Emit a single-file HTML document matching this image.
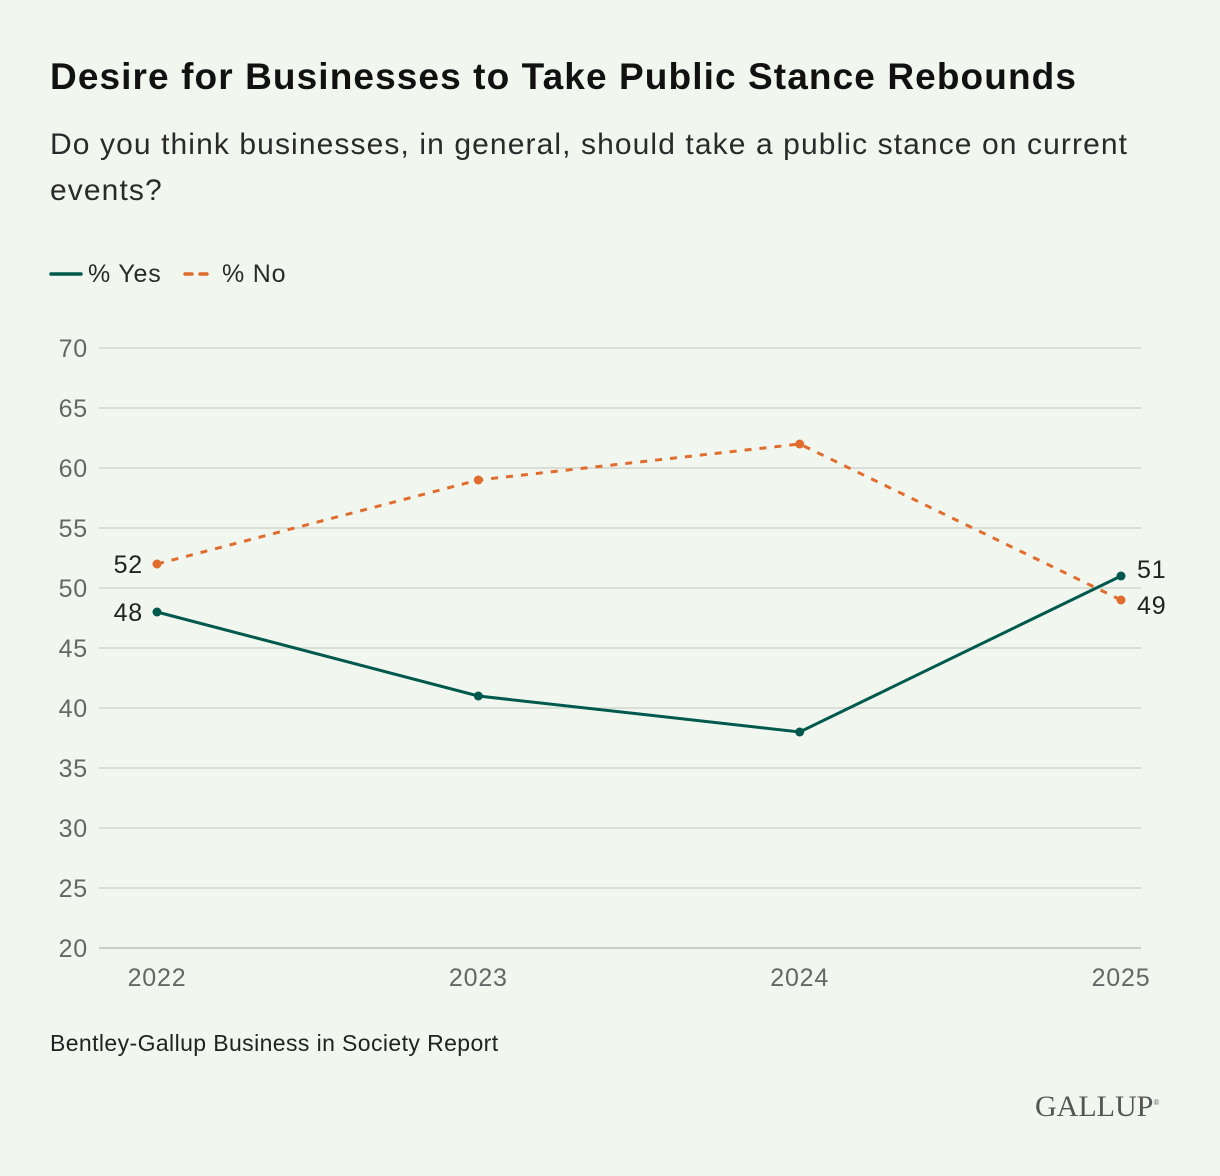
<!DOCTYPE html>
<html><head><meta charset="utf-8"><style>
body{margin:0;width:1220px;height:1176px;background:#f1f7ef;font-family:"Liberation Sans",sans-serif;overflow:hidden;position:relative}
#title{position:absolute;left:50px;top:56px;font-size:37px;letter-spacing:1.1px;font-weight:bold;color:#111;margin:0;white-space:nowrap}
#sub{position:absolute;left:50px;top:122px;width:1160px;font-size:30px;letter-spacing:1.1px;line-height:46px;color:#2a2a2a;margin:0}
#src{position:absolute;left:50px;top:1030px;font-size:23px;letter-spacing:0.4px;color:#222}
#logo{position:absolute;left:1035px;top:1090px;font-family:"Liberation Serif",serif;font-size:30px;color:#555}
svg{position:absolute;left:0;top:0;letter-spacing:0.8px}
</style></head><body>
<h1 id="title">Desire for Businesses to Take Public Stance Rebounds</h1>
<p id="sub">Do you think businesses, in general, should take a public stance on current<br>events?</p>
<svg id="chart" width="1220" height="1176"></svg>
<div id="src">Bentley-Gallup Business in Society Report</div>
<div id="logo">GALLUP<sup style="font-size:8px">®</sup></div>
<script>
const years=["2022","2023","2024","2025"];
const yesVals=[48,41,38,51];
const noVals=[52,59,62,49];
const yTicks=[20,25,30,35,40,45,50,55,60,65,70];
const svg=document.getElementById('chart');
const NS='http://www.w3.org/2000/svg';
const x=i=>157+i*(1121-157)/(years.length-1);
const y=v=>948-(v-20)*12;
function el(t,a,p){const e=document.createElementNS(NS,t);for(const k in a)e.setAttribute(k,a[k]);(p||svg).appendChild(e);return e;}
let g=el('g',{});


el('line',{x1:51,y1:274,x2:81,y2:274,stroke:'#00594c','stroke-width':3.5,'stroke-linecap':'round'},g);
let t=el('text',{x:88,y:282,'font-size':25,fill:'#2a2a2a'},g);t.textContent='% Yes';
g=el('g',{});


el('line',{x1:185,y1:274,x2:212,y2:274,stroke:'#e06c2e','stroke-width':3.5,'stroke-dasharray':'7 8','stroke-linecap':'round'},g);
t=el('text',{x:222,y:282,'font-size':25,fill:'#2a2a2a'},g);t.textContent='% No';
yTicks.forEach(v=>{
  const l=el('line',{x1:99,x2:1141,y1:y(v),y2:y(v),stroke:v===20?'#c8cdc6':'#d9dfd7','stroke-width':2});
  
  
  const tx=el('text',{x:88,y:y(v)+9,'font-size':25,fill:'#666','text-anchor':'end'});
  tx.textContent=v;
  
  
});
years.forEach((yr,i)=>{
  const tx=el('text',{x:x(i),y:986,'font-size':25,fill:'#666','text-anchor':'middle'});
  tx.textContent=yr;
  
  
});
function series(vals,color,dash,name,labelDy){
  const p=el('polyline',{points:vals.map((v,i)=>x(i)+','+y(v)).join(' '),fill:'none',stroke:color,'stroke-width':3,'stroke-dasharray':dash});
  
  
  vals.forEach((v,i)=>{
    const c=el('circle',{cx:x(i),cy:y(v),r:4.5,fill:color});
    
    
  });
  const last=vals.length-1;
  const a=el('text',{x:x(0)-14,y:y(vals[0])+9+labelDy[0],'font-size':25,fill:'#222','text-anchor':'end'});
  a.textContent=vals[0];
  
  
  const b=el('text',{x:x(last)+16,y:y(vals[last])+9+labelDy[1],'font-size':25,fill:'#222'});
  b.textContent=vals[last];
  
  
}
series(noVals,'#e06c2e','7 8','no',[0,5]);
series(yesVals,'#00594c','none','yes',[0,-7]);
</script>
</body></html>
